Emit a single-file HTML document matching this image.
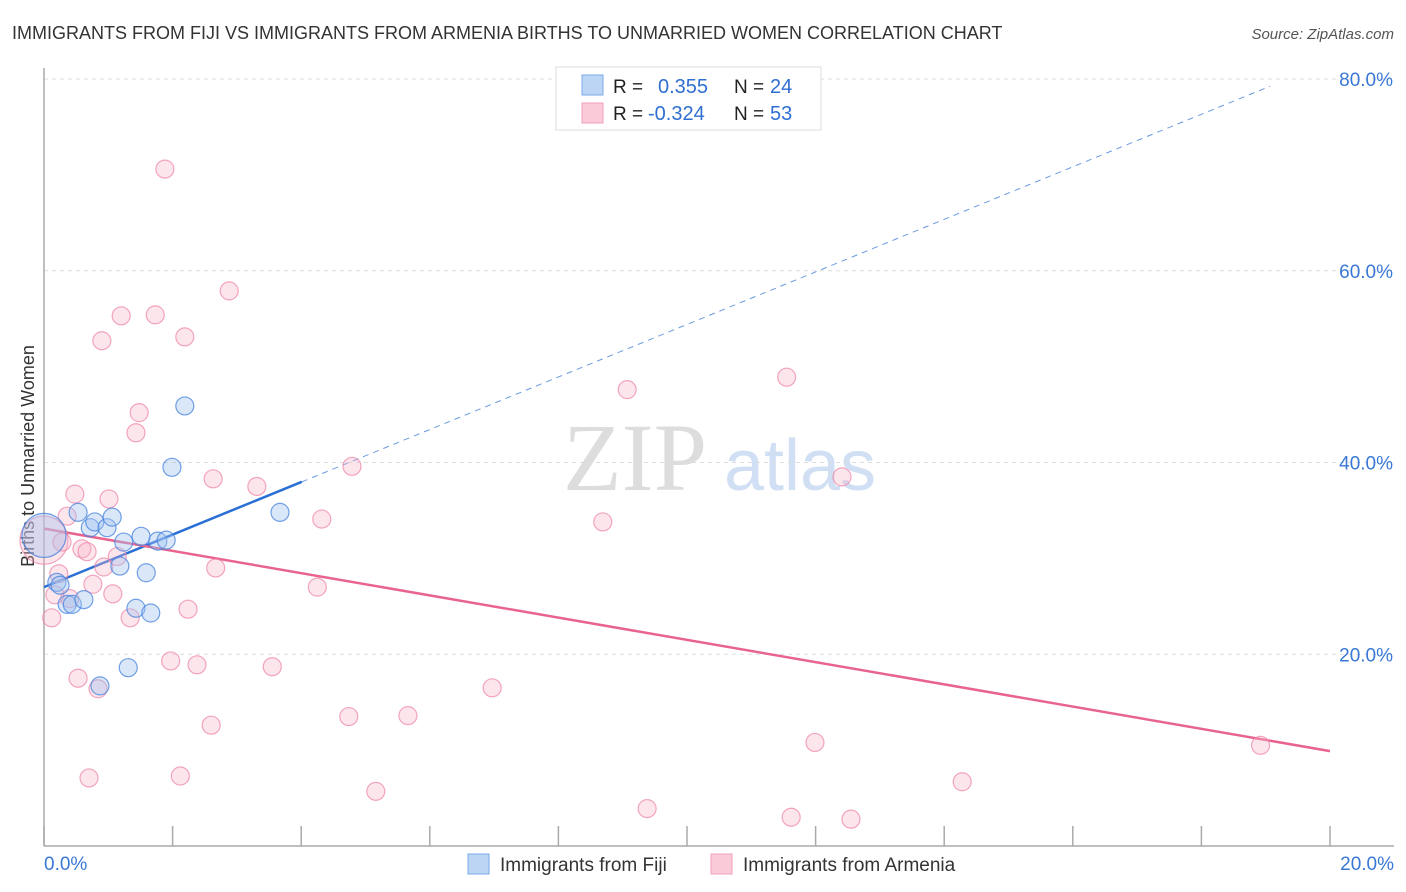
<!DOCTYPE html>
<html><head><meta charset="utf-8"><style>
body{margin:0;background:#fff;font-family:"Liberation Sans",sans-serif;}
#wrap{position:relative;width:1406px;height:892px;overflow:hidden;}
</style></head><body>
<div id="wrap">
<svg id="svg" width="1406" height="892" xmlns="http://www.w3.org/2000/svg" font-family="Liberation Sans, sans-serif">
<text x="12" y="39" font-size="18" fill="#333">IMMIGRANTS FROM FIJI VS IMMIGRANTS FROM ARMENIA BIRTHS TO UNMARRIED WOMEN CORRELATION CHART</text>
<text x="1394" y="39" font-size="15" fill="#555" text-anchor="end" font-style="italic">Source: ZipAtlas.com</text>
<text transform="translate(34,456) rotate(-90)" font-size="18" fill="#333" text-anchor="middle">Births to Unmarried Women</text>
<g>
<text x="635" y="490" font-size="96" fill="#dddddd" font-family="Liberation Serif, serif" text-anchor="middle">ZIP</text>
<text x="800" y="490" font-size="72" fill="#d0dff3" text-anchor="middle">atlas</text>
</g>
<g id="grid"></g>
<g id="axes"></g>
<g id="lines"></g>
<g id="pts"></g>
<g>
<rect x="556" y="67" width="265" height="63" fill="#fff" stroke="#ddd"/>
<rect x="582" y="75" width="21" height="20" fill="#bcd5f5" stroke="#7aa9e8"/>
<rect x="582" y="103" width="21" height="20" fill="#fbcad8" stroke="#f0a0b8"/>
<text x="613" y="93" font-size="19" fill="#222">R = </text><text x="658" y="93" font-size="20" fill="#2f6fd1">0.355</text>
<text x="734" y="93" font-size="19" fill="#222">N = </text><text x="770" y="93" font-size="20" fill="#2f6fd1">24</text>
<text x="613" y="120" font-size="19" fill="#222">R = </text><text x="648" y="120" font-size="20" fill="#2f6fd1">-0.324</text>
<text x="734" y="120" font-size="19" fill="#222">N = </text><text x="770" y="120" font-size="20" fill="#2f6fd1">53</text>
</g>
<g>
<rect x="468" y="854" width="21" height="20" fill="#bcd5f5" stroke="#7aa9e8"/>
<text x="500" y="871" font-size="19" fill="#333">Immigrants from Fiji</text>
<rect x="711" y="854" width="21" height="20" fill="#fbcad8" stroke="#f0a0b8"/>
<text x="743" y="871" font-size="19" fill="#333">Immigrants from Armenia</text>
</g>
</svg>
</div>
<script>
const xTicks=[0,20];
const yTicks=[20,40,60,80];
const fijiX=[0,0.2,0.25,0.36,0.44,0.53,0.62,0.72,0.79,0.98,1.06,1.18,1.24,1.31,1.43,1.51,1.59,1.66,1.77,1.9,1.99,2.19,3.67,0.87];
const fijiY=[32.4,27.5,27.2,25.2,25.2,34.8,25.7,33.2,33.8,33.2,34.3,29.2,31.7,18.6,24.8,32.3,28.5,24.3,31.8,31.9,39.5,45.9,34.8,16.7];
const armX=[1.88,2.88,1.2,1.73,0.9,2.19,1.48,1.43,0.48,1.01,0.36,2.63,3.31,4.79,4.32,0,0.28,0.59,0.67,1.14,0.93,0.23,2.67,0.76,1.07,0.4,4.25,2.24,1.34,0.12,1.97,2.38,3.55,0.53,0.84,2.6,4.74,5.66,6.97,0.7,2.12,5.16,8.69,9.07,11.55,12.41,11.99,9.38,11.62,12.55,14.28,18.92,0.17];
const armY=[70.6,57.9,55.3,55.4,52.7,53.1,45.2,43.1,36.7,36.2,34.4,38.3,37.5,39.6,34.1,31.9,31.7,31,30.7,30.2,29.1,28.4,29,27.3,26.3,25.8,27,24.7,23.8,23.8,19.3,18.9,18.7,17.5,16.4,12.6,13.5,13.6,16.5,7.1,7.3,5.7,33.8,47.6,48.9,38.5,10.8,3.9,3.0,2.8,6.7,10.5,26.2];
const fijiTrend=[27.0,2.74];
const armTrend=[33.1,-1.16];
const NS='http://www.w3.org/2000/svg';
const sx=v=>44+v/20*1286;
const sy=v=>846-v*9.5875;
function mk(tag,attrs,parent){const e=document.createElementNS(NS,tag);for(const k in attrs)e.setAttribute(k,attrs[k]);document.getElementById(parent).appendChild(e);return e;}
yTicks.forEach(t=>{
 const g=mk('line',{x1:44,x2:1394,y1:sy(t),y2:sy(t),stroke:'#ddd','stroke-dasharray':'4,4'},'grid');
 
 
 const l=mk('text',{x:1393,y:sy(t)+7,'font-size':19,fill:'#3a78d6','text-anchor':'end'},'grid');
 l.textContent=t.toFixed(1)+'%';
 
 
});
const ax=mk('line',{x1:44,x2:44,y1:68,y2:846,stroke:'#aaa','stroke-width':1.5},'axes');


const bx=mk('line',{x1:44,x2:1394,y1:846,y2:846,stroke:'#aaa','stroke-width':1.5},'axes');


for(let i=0;i<=10;i++){const tk=mk('line',{x1:sx(i*2),x2:sx(i*2),y1:826,y2:846,stroke:'#aaa','stroke-width':1.5},'axes');
 
 }
xTicks.forEach((t,i)=>{const l=mk('text',{x:i?1394:44,y:870,'font-size':19,fill:'#3a78d6','text-anchor':i?'end':'start'},'axes');
 l.textContent=t.toFixed(1)+'%';
 
 });
function dot(x,y,r,fill,stroke,name){const c=mk('circle',{cx:sx(x),cy:sy(y),r:r,fill:fill,stroke:stroke,'stroke-width':1.2},'pts');
 
 }
armX.forEach((x,i)=>dot(x,armY[i],(i==15)?24:9,'rgba(248,180,200,0.35)','rgba(236,130,165,0.7)','point-armenia'));
fijiX.forEach((x,i)=>dot(x,fijiY[i],i==0?22:9,'rgba(160,196,240,0.4)','rgba(70,130,220,0.75)','point-fiji'));
const fe=4.01,fend=19.07;
const l1=mk('line',{x1:sx(0),y1:sy(fijiTrend[0]),x2:sx(fe),y2:sy(fijiTrend[0]+fijiTrend[1]*fe),stroke:'#2a6fd6','stroke-width':2.5},'lines');


const l2=mk('line',{x1:sx(fe),y1:sy(fijiTrend[0]+fijiTrend[1]*fe),x2:sx(fend),y2:sy(fijiTrend[0]+fijiTrend[1]*fend),stroke:'#6a9be0','stroke-width':1,'stroke-dasharray':'6,5'},'lines');


const l3=mk('line',{x1:sx(0),y1:sy(armTrend[0]),x2:sx(20),y2:sy(armTrend[0]+armTrend[1]*20),stroke:'#e8648f','stroke-width':2.5},'lines');


</script>
</body></html>
